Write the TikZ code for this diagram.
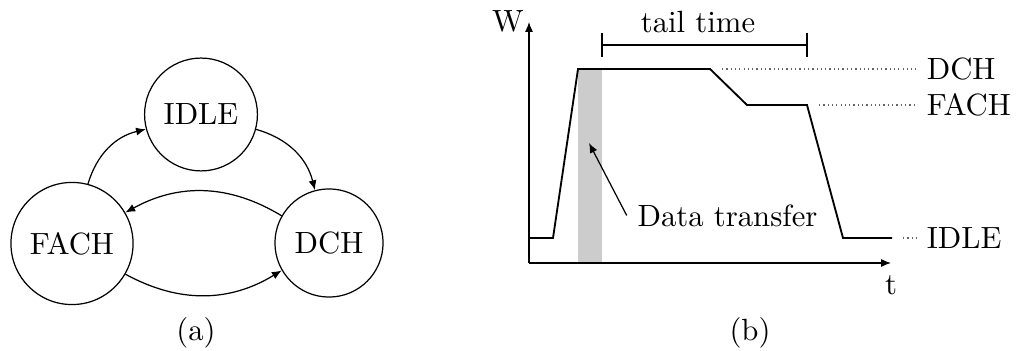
\documentclass[tikz,border=0pt]{standalone}
\usetikzlibrary{arrows.meta}
\begin{document}
\begin{tikzpicture}[
  x=0.3257pt,y=-0.3257pt,
  state/.style={draw,circle,inner sep=4.5pt},
  arr/.style={-{Latex[length=3.2pt,width=2.6pt]}},
  level/.style={densely dotted,draw=black!60},
  sig/.style={semithick,line join=miter}
]
\useasboundingbox (0,0) rectangle (1016,351);
% (a) state machine
\node[state] (idle) at (201,114.5) {IDLE};
\node[state] (fach) at (72,243.5) {FACH};
\node[state] (dch) at (329,243) {DCH};
\draw[arr] (fach) to[bend left=30] (idle);
\draw[arr] (idle) to[bend left=30] (dch);
\draw[arr] (dch) to[bend right=30] (fach);
\draw[arr] (fach) to[bend right=30] (dch);
\node (capa) at (196,333) {(a)};

% (b) power over time
\fill[black!20] (578,69) rectangle (602,263);
\coordinate (o) at (529,263);
\coordinate (ytip) at (529,22);
\coordinate (xtip) at (891,263);
\draw[arr] (o) -- (ytip);
\draw[arr] (o) -- (xtip);
\node (w) at (508,21) {W};
\node (t) at (891,285) {t};
\draw[sig] (529,238) -- (553,238) -- (578,69) -- (710,69) -- (747,105) -- (807,105) -- (843,238) -- (892,238);
\node[anchor=west] (ldch) at (916,69) {DCH};
\node[anchor=west] (lfach) at (916,105) {FACH};
\node[anchor=west] (lidle) at (916,238) {IDLE};
\draw[level] (722,69) -- (ldch.west);
\draw[level] (819,105) -- (lfach.west);
\draw[level] (903,238) -- (lidle.west);
% tail time bracket
\coordinate (ts) at (602,45);
\coordinate (te) at (807,45);
\draw (ts) -- (te);
\draw (602,33) -- (602,57);
\draw (807,33) -- (807,57);
\node (tail) at (698,22) {tail time};
% data transfer
\node (dt) at (727.5,215.5) {Data transfer};
\coordinate (dtip) at (589,143);
\draw[arr] (dt.west) -- (dtip);
\node (capb) at (750,333) {(b)};
\end{tikzpicture}
\end{document}
